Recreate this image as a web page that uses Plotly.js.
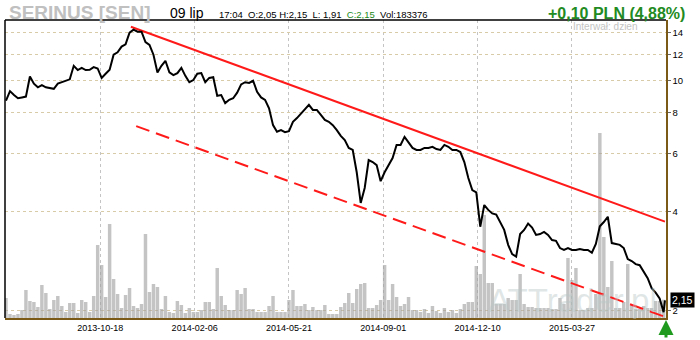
<!DOCTYPE html>
<html>
<head>
<meta charset="utf-8">
<script src="https://cdn.plot.ly/plotly-3.0.1.min.js"></script>
<style>html,body{margin:0;padding:0;background:#fff;}#chart{width:700px;height:340px;}</style>
</head>
<body>
<div id="chart"></div>
<script>
// ---- calendar (GPW sessions) ----
const firstSession = '2013-07-10';
const lastSession = '2015-07-09';
const holidays = ['2013-08-15','2013-11-01','2013-11-11','2013-12-24','2013-12-25','2013-12-26','2013-12-31',
  '2014-01-01','2014-01-06','2014-04-18','2014-04-21','2014-05-01','2014-06-19','2014-08-15','2014-11-11',
  '2014-12-24','2014-12-25','2014-12-26','2014-12-31',
  '2015-01-01','2015-01-06','2015-04-03','2015-04-06','2015-05-01','2015-06-04'];
const tickDates = ['2013-10-18','2014-02-06','2014-05-21','2014-09-01','2014-12-10','2015-03-27'];
const yTicks = [2,4,6,8,10,12,14];

// ---- series (close read every 3rd session, PLN) ----
const sampleStep = 3;
const close = [8.7,9.3,9.05,8.85,8.9,8.95,10.3,9.8,9.55,9.7,
  9.55,9.5,9.45,9.8,9.9,10.05,10.1,11.1,10.78,10.95,
  10.78,10.8,11.0,10.9,10.2,10.5,10.8,12.0,12.2,12.7,
  12.9,14.0,14.3,14.1,14.1,13.1,12.85,12.0,10.6,11.1,
  11.5,10.6,10.4,10.55,10.95,10.35,9.9,10.05,10.5,10.55,
  9.9,10.2,10.25,9.0,9.05,8.55,8.75,8.85,9.2,9.75,
  9.9,9.85,10.0,9.25,8.9,8.75,8.25,7.33,7.0,7.08,
  6.98,7.03,7.5,7.7,7.93,8.15,8.45,8.15,8.15,7.87,
  7.6,7.5,7.33,7.08,6.8,6.6,6.25,6.16,5.27,4.25,
  4.72,5.74,5.66,5.54,4.95,5.27,5.54,5.82,6.38,6.38,
  6.75,6.5,6.25,6.16,6.16,6.25,6.25,6.3,6.2,6.16,
  6.38,6.3,6.16,6.16,6.07,5.66,5.06,4.65,4.58,3.6,
  4.19,4.05,3.95,3.92,3.72,3.52,3.17,2.97,2.92,3.42,
  3.52,3.68,3.58,3.40,3.42,3.47,3.40,3.28,3.26,3.10,
  3.06,3.10,3.06,3.06,3.08,3.06,3.06,3.0,3.19,3.61,
  3.72,3.86,3.21,3.19,3.17,3.10,2.87,2.83,2.77,2.75,
  2.62,2.51,2.34,2.27,2.18,1.98];
const lastClose = 2.15;
// volume, thousand shares, same sessions
const volK = [200,40,30,40,80,280,170,160,110,330,
  250,90,180,220,120,60,150,150,50,180,
  160,60,220,730,530,210,940,390,240,100,
  230,300,120,100,140,840,260,340,310,90,
  220,60,50,170,130,50,100,60,60,80,
  160,160,90,500,220,130,80,80,280,240,
  300,90,90,60,60,60,120,220,60,60,
  60,180,280,120,120,140,80,110,80,80,
  130,40,40,40,110,150,250,150,290,340,
  350,100,100,130,180,530,180,340,210,120,
  140,210,80,80,60,90,50,120,70,50,
  100,60,80,50,90,140,160,160,520,440,
  1030,350,350,140,140,140,200,180,180,440,
  140,110,110,100,100,100,100,90,90,200,
  140,600,380,500,80,80,100,100,240,1850,
  810,310,570,100,100,160,540,130,90,90,
  120,100,100,170,170,183];
// trend channel (two points each)
const channelTopX = ['2013-11-22','2015-07-09'];
const channelTopY = [14.6, 3.73];
const channelLowX = ['2013-11-28','2015-07-09'];
const channelLowY = [7.28, 1.915];

// build session list
const hol = new Set(holidays);
const sessions = [];
{
  const [y0,m0,d0] = firstSession.split('-').map(Number);
  let t = Date.UTC(y0, m0-1, d0);
  while (true) {
    const d = new Date(t);
    const s = d.toISOString().slice(0,10);
    const wd = d.getUTCDay();
    if (wd !== 0 && wd !== 6 && !hol.has(s)) sessions.push(s);
    if (s === lastSession) break;
    t += 86400000;
  }
}
const closeFull = sessions.map((d,i) => {
  if (i % sampleStep === 0 && i / sampleStep < close.length) return close[i / sampleStep];
  if (i === sessions.length - 1) return lastClose;
  return null;
});
const volX = volK.map((v,j) => sessions[Math.min(j*sampleStep, sessions.length-1)]);

const data = [
  {type:'bar', x: volX, y: volK, width: 2.6, yaxis:'y', xaxis:'x',
   marker:{color:'rgba(160,160,160,0.62)', line:{width:0}}, hoverinfo:'skip'},
  {type:'scatter', mode:'lines', x: channelLowX, y: channelLowY, yaxis:'y2',
   line:{color:'#ff1a1a', width:2, dash:'14px,7px'}, hoverinfo:'skip'},
  {type:'scatter', mode:'lines', x: channelTopX, y: channelTopY, yaxis:'y2',
   line:{color:'#ff1a1a', width:2}, hoverinfo:'skip'},
  {type:'scatter', mode:'lines', x: sessions, y: closeFull, yaxis:'y2', connectgaps:true,
   line:{color:'#000', width:2}, hoverinfo:'skip'}
];

const px = v => (v - 5) / 661;
const py = v => (318 - v) / 298;

const layout = {
  width:700, height:340,
  margin:{l:5, r:34, t:20, b:22, pad:0},
  paper_bgcolor:'#fff', plot_bgcolor:'#fff',
  showlegend:false, hovermode:false,
  font:{family:'"Liberation Sans", Arial, sans-serif', color:'#000'},
  xaxis:{type:'category', categoryorder:'array', categoryarray: sessions,
    range:[-0.75, 496.8], tickmode:'array', tickvals: tickDates, ticktext: tickDates,
    showgrid:true, gridcolor:'#c4c4c4', griddash:'dot', gridwidth:1,
    ticks:'', tickfont:{size:9, color:'#000'}, showline:true, linecolor:'#7a5a16', linewidth:2,
    zeroline:false, fixedrange:true},
  yaxis:{range:[0,2980], visible:false, showgrid:false, zeroline:false, fixedrange:true},
  yaxis2:{overlaying:'y', side:'right', type:'log',
    range:[Math.log10(1.9), Math.log10(15.3)], tickmode:'array', tickvals: yTicks,
    ticktext: yTicks.map(String),
    showgrid:true, gridcolor:'#d8cba8', griddash:'dot', gridwidth:1,
    ticks:'outside', ticklen:3, tickcolor:'#666', tickfont:{size:9.5, color:'#000'},
    showline:true, linecolor:'#7a5a16', linewidth:1.5, zeroline:false, fixedrange:true},
  shapes:[
    {type:'line', xref:'paper', yref:'paper', x0:0, x1:1, y0:1, y1:1, line:{color:'#000', width:1.5}},
    {type:'line', xref:'paper', yref:'paper', x0:0, x1:0, y0:0, y1:1, line:{color:'#000', width:1.5}}
  ],
  annotations:[
    {xref:'paper', yref:'paper', x:px(7), y:py(12), xanchor:'left', yanchor:'middle', showarrow:false,
     text:'<b>SERINUS [SEN]</b>', font:{size:19, color:'#c0c0c0'}},
    {xref:'paper', yref:'paper', x:px(168), y:py(12.5), xanchor:'left', yanchor:'middle', showarrow:false,
     text:'09 lip', font:{size:14, color:'#000'}},
    {xref:'paper', yref:'paper', x:px(217), y:py(15), xanchor:'left', yanchor:'middle', showarrow:false,
     text:'17:04&nbsp; O:2,05&nbsp;H:2,15&nbsp; L: 1,91&nbsp; <span style="color:#1a8a1a">C:2,15</span>&nbsp; Vol:183376',
     font:{size:9.5, color:'#000'}},
    {xref:'paper', yref:'paper', x:px(687), y:py(13), xanchor:'right', yanchor:'middle', showarrow:false,
     text:'<b>+0,10 PLN (4,88%)</b>', font:{size:16, color:'#228b22'}},
    {xref:'paper', yref:'paper', x:px(571), y:py(26.5), xanchor:'left', yanchor:'middle', showarrow:false,
     text:'Interwał: dzien', font:{size:10, color:'#c4c4c4'}},
    {xref:'paper', yref:'paper', x:px(659), y:py(300), xanchor:'right', yanchor:'middle', showarrow:false,
     text:'ATTrader.pl', font:{size:33, color:'rgba(185,200,200,0.45)'}},
    {xref:'paper', yref:'y2', x:px(670), y:Math.log10(lastClose), xanchor:'left', yanchor:'middle', showarrow:false,
     text:'2,15', bgcolor:'#000', borderpad:1, font:{size:10.5, color:'#fff'}},
    {xref:'paper', yref:'paper', x:px(666), y:py(320), showarrow:true, text:'',
     ax:0, ay:19, arrowhead:2, arrowsize:1, arrowwidth:3, arrowcolor:'#1f9a1f', standoff:0}
  ]
};

Plotly.newPlot('chart', data, layout, {staticPlot:true, displayModeBar:false});
</script>
</body>
</html>
